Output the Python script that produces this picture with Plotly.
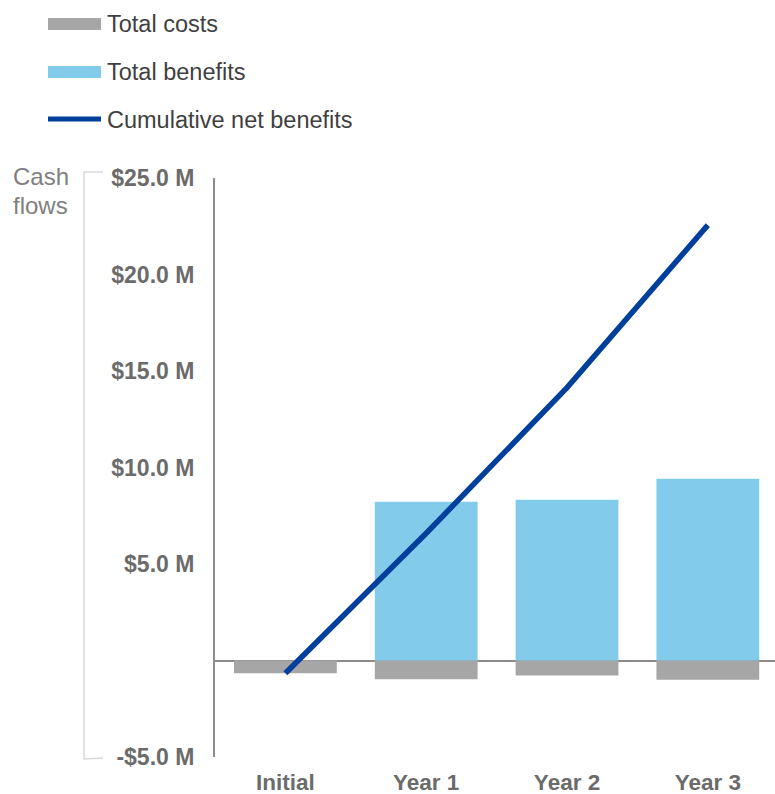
import plotly.graph_objects as go

categories = ["Initial", "Year 1", "Year 2", "Year 3"]
total_costs = [-0.66, -0.97, -0.78, -1.00]
total_benefits = [0.0, 8.22, 8.33, 9.42]
cumulative_net = [-0.66, 6.59, 14.14, 22.56]
ytick_vals = [-5, 5, 10, 15, 20, 25]
ytick_text = ["-$5.0 M", "$5.0 M", "$10.0 M", "$15.0 M", "$20.0 M", "$25.0 M"]

W, H = 775, 794
L, R, T, B = 215, 0, 178, 37
PW, PH = W - L - R, H - T - B

def px(x):
    return (x - L) / PW

def py(y):
    return (H - B - y) / PH

COST = "#a6a6a6"
BEN = "#82cbeb"
LINE = "#003f9b"
TICK = "#6b6b6b"
FONT = "Liberation Sans, Arial, sans-serif"

fig = go.Figure()
fig.add_trace(go.Bar(x=categories, y=total_costs, marker_color=COST, width=0.73,
                     marker_line_width=0, name="Total costs", showlegend=False))
fig.add_trace(go.Bar(x=categories, y=total_benefits, marker_color=BEN, width=0.73,
                     marker_line_width=0, name="Total benefits", showlegend=False))
fig.add_trace(go.Scatter(x=categories, y=cumulative_net, mode="lines",
                         line=dict(color=LINE, width=5.5), name="Cumulative net benefits",
                         showlegend=False))

shapes = []
annotations = []
legend_items = [("Total costs", COST, "rect", 24), ("Total benefits", BEN, "rect", 72),
                ("Cumulative net benefits", LINE, "line", 120)]
for name, col, kind, yc in legend_items:
    if kind == "rect":
        shapes.append(dict(type="rect", xref="paper", yref="paper",
                           x0=px(48), x1=px(101), y0=py(yc - 6), y1=py(yc + 6),
                           fillcolor=col, line=dict(width=0)))
    else:
        shapes.append(dict(type="line", xref="paper", yref="paper",
                           x0=px(48), x1=px(101), y0=py(yc - 1), y1=py(yc - 1),
                           line=dict(color=col, width=5)))
    annotations.append(dict(text=name, xref="paper", yref="paper", x=px(105), y=py(yc),
                            xanchor="left", yanchor="middle", showarrow=False,
                            font=dict(family=FONT, size=23.5, color="#3f3f3f")))

# bracket
shapes.append(dict(type="path", xref="paper", yref="paper",
                   path=f"M {px(103)},{py(172)} L {px(84)},{py(172)} L {px(84)},{py(759)} L {px(103)},{py(758)}",
                   line=dict(color="#d9d9d9", width=1.5)))
for txt, yc in [("Cash", 177), ("flows", 205)]:
    annotations.append(dict(text=txt, xref="paper", yref="paper", x=px(11), y=py(yc),
                            xanchor="left", yanchor="middle", showarrow=False,
                            font=dict(family=FONT, size=24, color="#7f7f7f")))

fig.update_layout(
    width=W, height=H, margin=dict(l=L, r=R, t=T, b=B, pad=0, autoexpand=False),
    paper_bgcolor="white", plot_bgcolor="white", barmode="overlay",
    font=dict(family=FONT), shapes=shapes, annotations=annotations,
)
fig.update_xaxes(range=[-0.5, 3.477], showgrid=False, showline=False, ticks="",
                 tickfont=dict(family=FONT, size=22.5, color=TICK, weight="bold"),
                 ticklabelstandoff=9, zeroline=False, automargin=False)
fig.update_yaxes(range=[-5, 25], tickvals=ytick_vals, ticktext=ytick_text, showgrid=False,
                 showline=True, linecolor="#8c8c8c", linewidth=2, ticks="",
                 zeroline=True, zerolinecolor="#8c8c8c", zerolinewidth=2,
                 tickfont=dict(family=FONT, size=23, color=TICK, weight="bold"),
                 ticklabelstandoff=14, automargin=False)

fig.write_html("out.html", config={"displayModeBar": False},
               post_script="document.body.style.margin='0';document.body.style.overflow='hidden';")
